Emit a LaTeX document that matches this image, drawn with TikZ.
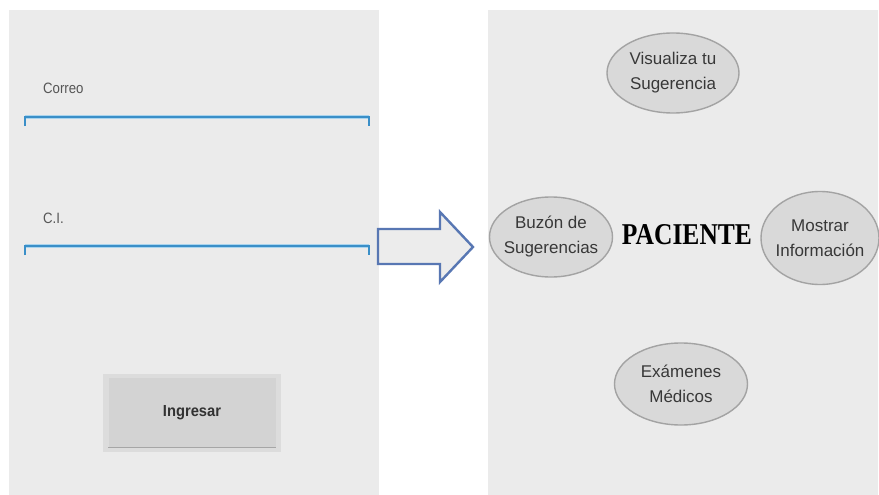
\documentclass[tikz,border=0pt]{standalone}
\usepackage{fontspec}
\setmainfont{Liberation Sans}
\newfontfamily\headfont{Liberation Serif}
\usetikzlibrary{shapes.geometric}
\definecolor{panelgray}{HTML}{EBEBEB}
\definecolor{bubblefill}{HTML}{D9D9D9}
\definecolor{bubbleline}{HTML}{A3A3A3}
\definecolor{inktext}{HTML}{383838}
\definecolor{fieldblue}{HTML}{3A8FC8}
\definecolor{fieldhalo}{HTML}{A9D4EE}
\definecolor{buttonfill}{HTML}{D3D3D3}
\definecolor{buttonedge}{HTML}{DCDCDC}
\definecolor{arrowline}{HTML}{5877B3}
\definecolor{arrowfill}{HTML}{ECECEC}
\tikzset{
  panel/.style={fill=panelgray, draw=none},
  fieldlabel/.style={anchor=base west, inner sep=0pt, text=inktext!85,
    font=\fontsize{15}{17}\selectfont},
  fieldline/.style={draw=fieldblue, line width=2pt, line cap=butt},
  fieldglow/.style={draw=fieldhalo, line width=4pt},
  bubble/.style={ellipse, fill=bubblefill, draw=bubbleline, line width=1.4pt,
    inner sep=0pt},
  bubbletext/.style={align=center, inner sep=0pt, text=inktext,
    font=\fontsize{17}{25}\selectfont},
}
\begin{document}
\begin{tikzpicture}[x=1pt, y=-1pt]
\useasboundingbox (0,0) rectangle (879,495);
\fill[white] (0,0) rectangle (879,495);

% the two screens
\path[panel] (9,10) rectangle (379,495);
\path[panel] (488,10) rectangle (878,495);

% login form
\node[fieldlabel] (correo) at (43,93) {\scalebox{0.88}[1]{Correo}};
\coordinate (c1) at (25,117);
\coordinate (c2) at (369,117);
\draw[fieldglow] (c1) -- (c2);
\draw[fieldline] ([yshift=-9pt]c1) -- (c1) -- (c2) -- ([yshift=-9pt]c2);

\node[fieldlabel] (ci) at (43,223) {\scalebox{0.88}[1]{C.I.}};
\coordinate (d1) at (25,246);
\coordinate (d2) at (369,246);
\draw[fieldglow] (d1) -- (d2);
\draw[fieldline] ([yshift=-9pt]d1) -- (d1) -- (d2) -- ([yshift=-9pt]d2);

\fill[buttonedge] (103,374) rectangle (281,452);
\node[fill=buttonfill, minimum width=167pt, minimum height=70pt, inner sep=0pt,
  text=inktext!90!black, font=\bfseries\fontsize{16}{18}\selectfont]
  (ingresar) at (192,412.5) {\scalebox{0.92}[1]{Ingresar}};
\draw[black!35, line width=1.2pt] (ingresar.south west) -- (ingresar.south east);

% transition arrow
\draw[arrowline, fill=arrowfill, line width=2.4pt, line join=miter]
  (378,229) -- (440,229) -- (440,212) -- (473,247) -- (440,282)
  -- (440,264) -- (378,264) -- cycle;

% patient menu
\node[inner sep=0pt, font=\headfont\bfseries] (paciente) at (687,235)
  {\resizebox{130pt}{20pt}{PACIENTE}};

\node[bubble, minimum width=132pt, minimum height=80pt] (vis) at (673,73) {};
\node[bubbletext] (vistext) at (vis) {Visualiza tu\\Sugerencia};

\node[bubble, minimum width=123pt, minimum height=80pt] (buz) at (551,237) {};
\node[bubbletext] (buztext) at (buz) {Buzón de\\Sugerencias};

\node[bubble, minimum width=118pt, minimum height=93pt] (mos) at (820,238) {};
\node[bubbletext] (mostext) at (mos) {Mostrar\\Información};

\node[bubble, minimum width=133pt, minimum height=82pt] (exa) at (681,384) {};
\node[bubbletext] (exatext) at (exa) {Exámenes\\Médicos};
\end{tikzpicture}
\end{document}
